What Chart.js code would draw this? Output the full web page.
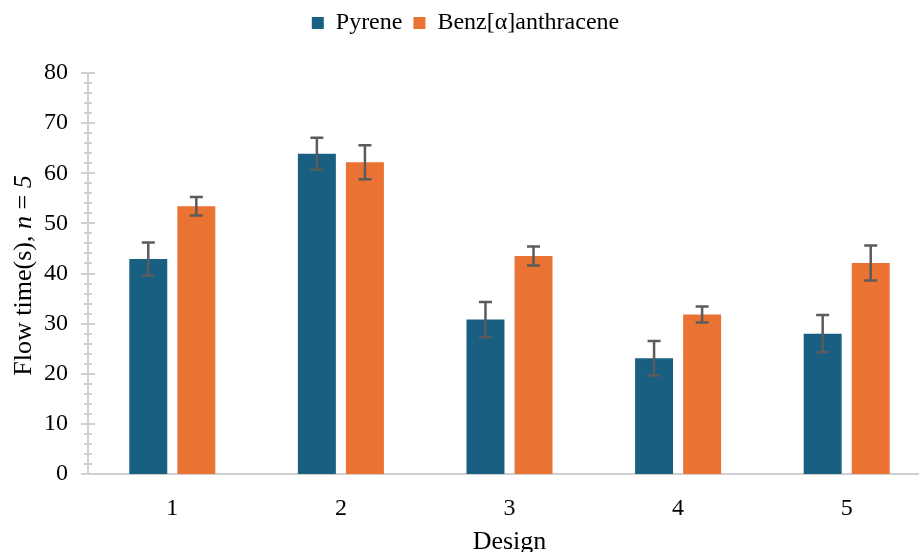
<!DOCTYPE html>
<html>
<head>
<meta charset="utf-8">
<script src="https://cdn.jsdelivr.net/npm/chart.js@4.4.0/dist/chart.umd.min.js"></script>
<style>
  html, body { margin: 0; padding: 0; background: #fff; overflow: hidden; }
  #wrap { width: 931px; height: 552px; position: relative; }
</style>
</head>
<body>
<div id="wrap"><canvas id="flowChart"></canvas></div>
<script>
// data
const designs = ['1', '2', '3', '4', '5'];
const pyrene = [42.9, 63.9, 30.8, 23.1, 28.0];
const pyreneErr = [3.3, 3.2, 3.5, 3.45, 3.7];
const benz = [53.4, 62.2, 43.5, 31.8, 42.1];
const benzErr = [1.85, 3.4, 1.9, 1.6, 3.5];
const yTicks = [0, 10, 20, 30, 40, 50, 60, 70, 80];

const serif = '"Liberation Serif", "Times New Roman", serif';
const axisGray = '#d0d0d0';

// error bars on top of each bar
const errorBars = {
  id: 'errorBars',
  afterDatasetsDraw(chart) {
    const ctx = chart.ctx;
    const y = chart.scales.y;
    ctx.save();
    ctx.strokeStyle = '#5b5b5b';
    ctx.lineWidth = 2.5;
    chart.data.datasets.forEach((ds, i) => {
      const meta = chart.getDatasetMeta(i);
      meta.data.forEach((bar, j) => {
        const v = ds.data[j];
        const e = ds.errors[j];
        const yt = y.getPixelForValue(v + e);
        const yb = y.getPixelForValue(v - e);
        ctx.beginPath();
        ctx.moveTo(bar.x, yt); ctx.lineTo(bar.x, yb);
        ctx.moveTo(bar.x - 6.5, yt); ctx.lineTo(bar.x + 6.5, yt);
        ctx.moveTo(bar.x - 6.5, yb); ctx.lineTo(bar.x + 6.5, yb);
        ctx.stroke();
      });
    });
    ctx.restore();
  }
};

// excel style cross ticks on the value axis + rotated title with italic n
const yAxisExtras = {
  id: 'yAxisExtras',
  afterDraw(chart) {
    const ctx = chart.ctx;
    const y = chart.scales.y;
    const x0 = chart.chartArea.left;
    ctx.save();
    ctx.strokeStyle = axisGray;
    ctx.lineWidth = 2;
    for (let v = 0; v <= 80; v += 2) {
      const py = Math.round(y.getPixelForValue(v));
      const half = v % 10 === 0 ? 7 : 4;
      ctx.beginPath();
      ctx.moveTo(x0 - half, py);
      ctx.lineTo(x0 + half, py);
      ctx.stroke();
    }

    const parts = [
      ['Flow time(s), ', 'normal'],
      ['n', 'italic'],
      [' = ', 'normal'],
      ['5', 'italic']
    ];
    let total = 0;
    parts.forEach(p => {
      ctx.font = p[1] + ' 26px ' + serif;
      total += ctx.measureText(p[0]).width;
    });
    const cy = (chart.chartArea.top + chart.chartArea.bottom) / 2;
    ctx.translate(24, cy + 2);
    ctx.rotate(-Math.PI / 2);
    ctx.fillStyle = '#000';
    ctx.textBaseline = 'middle';
    let cx = -total / 2;
    parts.forEach(p => {
      ctx.font = p[1] + ' 26px ' + serif;
      ctx.fillText(p[0], cx, 0);
      cx += ctx.measureText(p[0]).width;
    });
    ctx.restore();
  }
};

const chart = new Chart(document.getElementById('flowChart'), {
  type: 'bar',
  data: {
    labels: designs,
    datasets: [
      {
        label: 'Pyrene',
        data: pyrene,
        errors: pyreneErr,
        backgroundColor: '#185f82',
        categoryPercentage: 0.57,
        barPercentage: 0.79
      },
      {
        label: 'Benz[α]anthracene',
        data: benz,
        errors: benzErr,
        backgroundColor: '#ea7333',
        categoryPercentage: 0.57,
        barPercentage: 0.79
      }
    ]
  },
  options: {
    responsive: true,
    maintainAspectRatio: false,
    animation: false,
    layout: { padding: 0 },
    plugins: {
      legend: {
        position: 'top',
        labels: {
          font: { family: serif, size: 24 },
          color: '#000',
          boxWidth: 12,
          boxHeight: 12,
          padding: 11
        }
      },
      // empty spacer between legend and plot
      subtitle: {
        display: true,
        text: '',
        weight: 500,
        font: { size: 10, lineHeight: 1 },
        padding: { top: 18, bottom: 0 }
      },
      tooltip: { enabled: false }
    },
    scales: {
      x: {
        grid: { display: false },
        border: { display: true, color: axisGray, width: 2 },
        ticks: {
          color: '#000',
          font: { family: serif, size: 24 },
          padding: 12
        },
        title: {
          display: true,
          text: 'Design',
          color: '#000',
          font: { family: serif, size: 26 },
          padding: { top: 0, bottom: -6 }
        },
        afterFit(scale) { scale.height = 78; }
      },
      y: {
        min: 0,
        max: 80,
        afterBuildTicks(scale) { scale.ticks = yTicks.map(v => ({ value: v })); },
        grid: { display: false },
        border: { display: true, color: axisGray, width: 2 },
        ticks: {
          color: '#000',
          font: { family: serif, size: 24 },
          padding: 12
        },
        afterFit(scale) { scale.width = 88; }
      }
    }
  },
  plugins: [errorBars, yAxisExtras]
});
</script>
</body>
</html>
